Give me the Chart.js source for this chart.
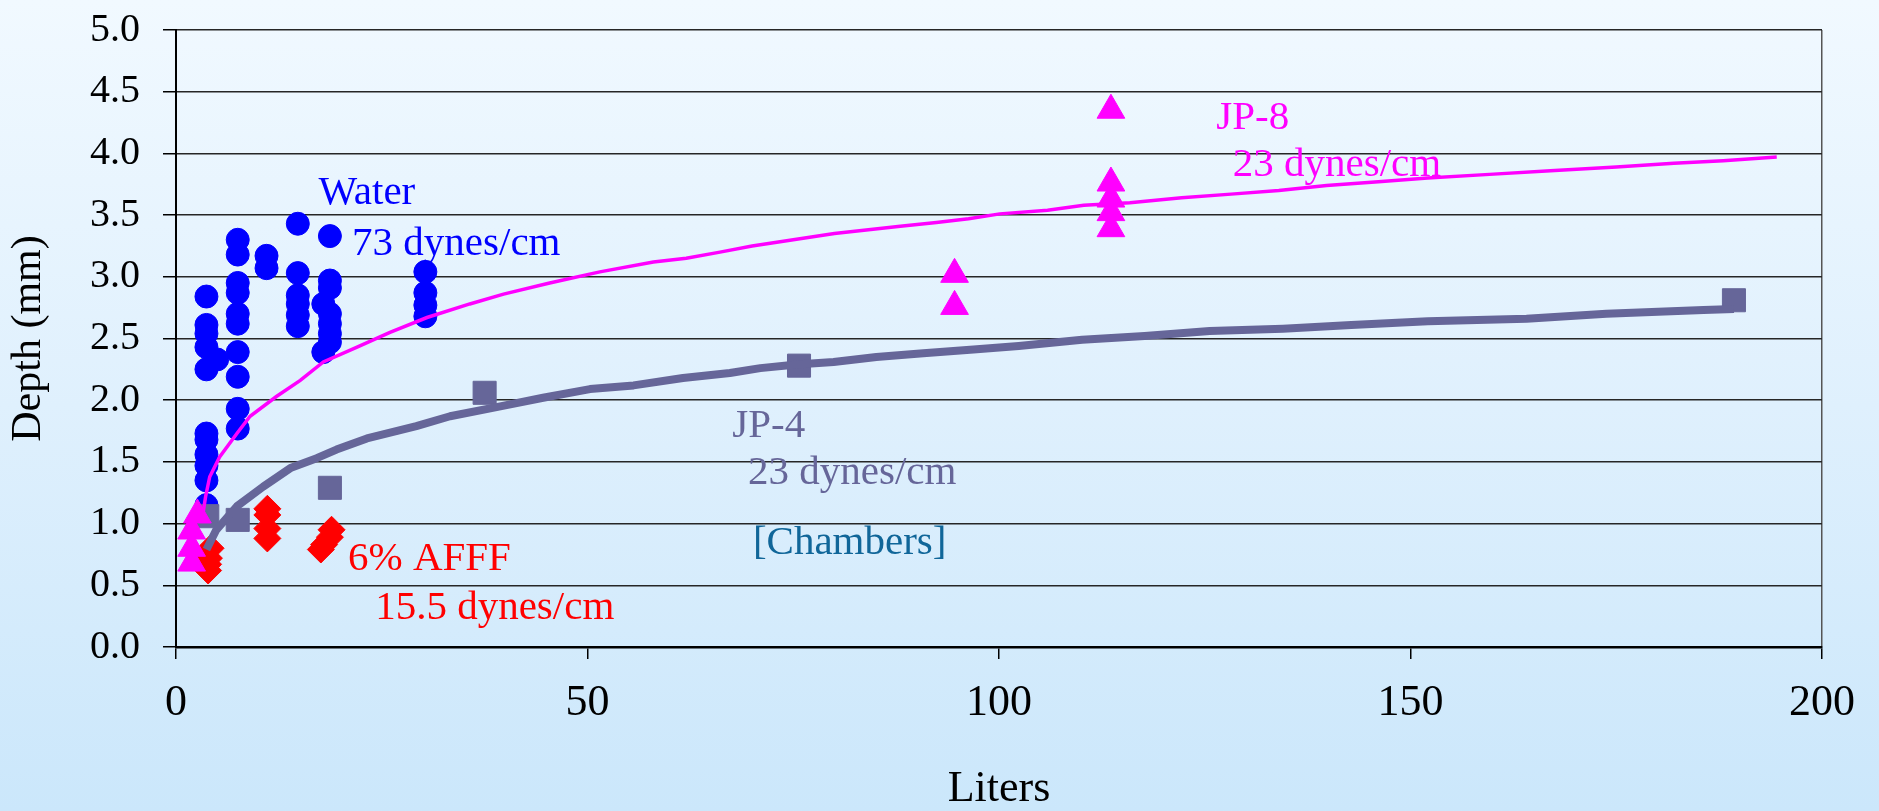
<!DOCTYPE html>
<html lang="en">
<head>
    <meta charset="UTF-8">
    <title>Depth vs Liters</title>
    <script src="https://cdn.jsdelivr.net/npm/chart.js"></script>
    <style>
        body {
            margin: 0;
            width: 1879px;
            height: 811px;
            overflow: hidden;
            background: linear-gradient(to bottom, #f1f9ff 0%, #dff0fd 50%, #cbe7fb 100%);
        }
        canvas {
            display: block;
        }
    </style>
</head>
<body>
    <canvas id="depthChart" width="1879" height="811"></canvas>

    <script>
        // measured points [liters, depth mm]
        const waterPts = [
            [3.7, 2.84], [3.7, 2.61], [3.7, 2.54], [3.7, 2.43], [3.7, 2.25], [5.0, 2.33],
            [3.7, 1.73], [3.7, 1.68], [3.7, 1.56], [3.7, 1.47], [3.7, 1.35], [3.7, 1.15],
            [7.5, 3.30], [7.5, 3.18], [7.5, 2.95], [7.5, 2.87], [7.5, 2.70], [7.5, 2.62],
            [7.5, 2.39], [7.5, 2.19], [7.5, 1.93], [7.5, 1.77],
            [11.0, 3.17], [11.0, 3.07],
            [14.8, 3.43], [14.8, 3.03], [14.8, 2.85], [14.8, 2.78], [14.8, 2.69], [14.8, 2.60],
            [18.7, 3.33], [18.7, 2.97], [18.7, 2.91], [18.7, 2.70], [18.7, 2.62], [18.7, 2.54],
            [18.7, 2.47], [17.9, 2.78], [17.9, 2.39],
            [30.3, 3.04], [30.3, 2.87], [30.3, 2.77], [30.3, 2.68]
        ];
        const afffPts = [
            [4.2, 0.80], [4.0, 0.72], [3.9, 0.67], [3.9, 0.62],
            [11.1, 1.12], [11.1, 1.07], [11.1, 0.96], [11.1, 0.88],
            [18.9, 0.95], [18.7, 0.89], [18.0, 0.83], [17.6, 0.79]
        ];
        const jp8Pts = [
            [2.6, 1.07], [1.9, 0.94], [1.9, 0.80], [1.9, 0.68],
            [94.6, 3.02], [94.6, 2.76],
            [113.6, 4.35], [113.6, 3.76], [113.6, 3.63], [113.6, 3.52], [113.6, 3.39]
        ];
        const jp4Pts = [
            [3.8, 1.06], [7.5, 1.03], [18.7, 1.29], [37.5, 2.06], [75.7, 2.28], [189.3, 2.81]
        ];

        // fitted curves
        const jp8Curve = [
            [3.2, 1.05], [3.6, 1.22], [4.1, 1.38], [5.3, 1.54], [7.4, 1.73], [9.0, 1.87],
            [12.2, 2.03], [15.1, 2.16], [17.9, 2.31], [22.0, 2.43], [26.0, 2.55], [30.5, 2.67],
            [35.7, 2.78], [39.8, 2.86], [45.4, 2.95], [51.5, 3.04], [58.0, 3.12], [62.0, 3.15],
            [66.1, 3.20], [70.0, 3.25], [75.0, 3.30], [80.0, 3.35], [88.0, 3.41], [92.4, 3.44],
            [96.3, 3.47], [100.1, 3.51], [105.9, 3.54], [110.3, 3.58], [115.9, 3.60], [122.2, 3.64],
            [128.2, 3.67], [134.0, 3.70], [139.8, 3.74], [146.1, 3.77], [152.1, 3.80], [159.6, 3.83],
            [167.0, 3.86], [175.0, 3.89], [182.0, 3.92], [188.0, 3.94], [194.5, 3.97]
        ];
        const jp4Curve = [
            [3.7, 0.79], [4.9, 0.95], [7.4, 1.14], [10.6, 1.30], [13.9, 1.45], [17.1, 1.53],
            [19.5, 1.60], [23.2, 1.69], [29.2, 1.79], [33.3, 1.87], [39.4, 1.95], [44.6, 2.02],
            [50.3, 2.09], [55.6, 2.12], [61.6, 2.18], [67.3, 2.22], [71.0, 2.26], [75.4, 2.29],
            [79.9, 2.31], [85.1, 2.35], [90.8, 2.38], [96.9, 2.41], [102.4, 2.44], [110.1, 2.49],
            [117.7, 2.52], [125.6, 2.56], [134.5, 2.58], [142.8, 2.61], [152.1, 2.64], [164.1, 2.66],
            [173.8, 2.70], [185.6, 2.73], [189.3, 2.74]
        ];

        // text notes: [text, liters, depth (baseline), color]
        const notes = [
            ['Water', 17.3, 3.59, '#0000ff'],
            ['73 dynes/cm', 21.4, 3.18, '#0000ff'],
            ['JP-8', 126.4, 4.20, '#ff00ff'],
            ['23 dynes/cm', 128.4, 3.82, '#ff00ff'],
            ['JP-4', 67.6, 1.70, '#666699'],
            ['23 dynes/cm', 69.5, 1.32, '#666699'],
            ['[Chambers]', 70.1, 0.75, '#106699'],
            ['6% AFFF', 20.9, 0.62, '#ff0000'],
            ['15.5 dynes/cm', 24.2, 0.23, '#ff0000']
        ];

        const toXY = arr => arr.map(p => ({ x: p[0], y: p[1] }));
        const serif = 'Liberation Serif, Times New Roman, serif';

        const notesPlugin = {
            id: 'notes',
            afterDatasetsDraw(chart) {
                const ctx = chart.ctx;
                const xs = chart.scales.x;
                const ys = chart.scales.y;
                ctx.save();
                ctx.font = '41px ' + serif;
                ctx.textAlign = 'left';
                ctx.textBaseline = 'alphabetic';
                notes.forEach(n => {
                    ctx.fillStyle = n[3];
                    ctx.fillText(n[0], xs.getPixelForValue(n[1]), ys.getPixelForValue(n[2]));
                });
                ctx.restore();
            }
        };

        const ctx = document.getElementById('depthChart').getContext('2d');
        new Chart(ctx, {
            type: 'scatter',
            data: {
                datasets: [
                    {
                        label: 'JP-8 fit',
                        data: toXY(jp8Curve),
                        showLine: true,
                        borderColor: '#ff00ff',
                        borderWidth: 3.5,
                        pointRadius: 0,
                        fill: false
                    },
                    {
                        label: 'JP-4 fit',
                        data: toXY(jp4Curve),
                        showLine: true,
                        borderColor: '#666699',
                        borderWidth: 8,
                        borderJoinStyle: 'round',
                        pointRadius: 0,
                        fill: false
                    },
                    {
                        label: 'JP-8',
                        data: toXY(jp8Pts),
                        pointStyle: 'triangle',
                        pointRadius: 16,
                        backgroundColor: '#ff00ff',
                        borderColor: '#ff00ff',
                        borderWidth: 1
                    },
                    {
                        label: 'JP-4',
                        data: toXY(jp4Pts),
                        pointStyle: 'rect',
                        pointRadius: 16.3,
                        backgroundColor: '#666699',
                        borderColor: '#666699',
                        borderWidth: 1
                    },
                    {
                        label: '6% AFFF',
                        data: toXY(afffPts),
                        pointStyle: 'rectRot',
                        pointRadius: 13.5,
                        backgroundColor: '#ff0000',
                        borderColor: '#ff0000',
                        borderWidth: 1
                    },
                    {
                        label: 'Water',
                        data: toXY(waterPts),
                        pointStyle: 'circle',
                        pointRadius: 11.5,
                        backgroundColor: '#0000ff',
                        borderColor: '#0000ff',
                        borderWidth: 1
                    }
                ]
            },
            options: {
                responsive: false,
                animation: false,
                clip: false,
                layout: {
                    padding: { top: 30, right: 57, left: 0, bottom: 0 }
                },
                plugins: {
                    legend: { display: false },
                    tooltip: { enabled: false }
                },
                scales: {
                    x: {
                        type: 'linear',
                        min: 0,
                        max: 200,
                        afterFit: scale => { scale.height = 164; },
                        ticks: {
                            stepSize: 50,
                            color: '#000',
                            padding: 18,
                            font: { family: serif, size: 44 }
                        },
                        grid: {
                            drawOnChartArea: true,
                            color: c => (c.tick && c.tick.value === 200) ? '#555' : 'rgba(0,0,0,0)',
                            lineWidth: 1.5,
                            tickColor: '#000',
                            tickWidth: 1.5,
                            tickLength: 12
                        },
                        border: { color: '#000', width: 2.5 },
                        title: {
                            display: true,
                            text: 'Liters',
                            color: '#000',
                            padding: { top: 0, bottom: 0 },
                            font: { family: serif, size: 44, lineHeight: 1 }
                        }
                    },
                    y: {
                        min: 0,
                        max: 5,
                        afterFit: scale => {
                            scale.width = 176;
                            // keep the plot top at the layout padding
                            scale.paddingTop = 0;
                            scale.paddingBottom = 0;
                        },
                        ticks: {
                            stepSize: 0.5,
                            color: '#000',
                            padding: 23,
                            font: { family: serif, size: 40 },
                            callback: v => v.toFixed(1)
                        },
                        grid: {
                            color: '#262626',
                            lineWidth: 1.5,
                            tickColor: '#000',
                            tickLength: 13
                        },
                        border: { color: '#000', width: 2 },
                        title: {
                            display: true,
                            text: 'Depth (mm)',
                            color: '#000',
                            padding: { top: 8, bottom: 0 },
                            font: { family: serif, size: 42, lineHeight: 1 }
                        }
                    }
                }
            },
            plugins: [notesPlugin]
        });
    </script>
</body>
</html>
